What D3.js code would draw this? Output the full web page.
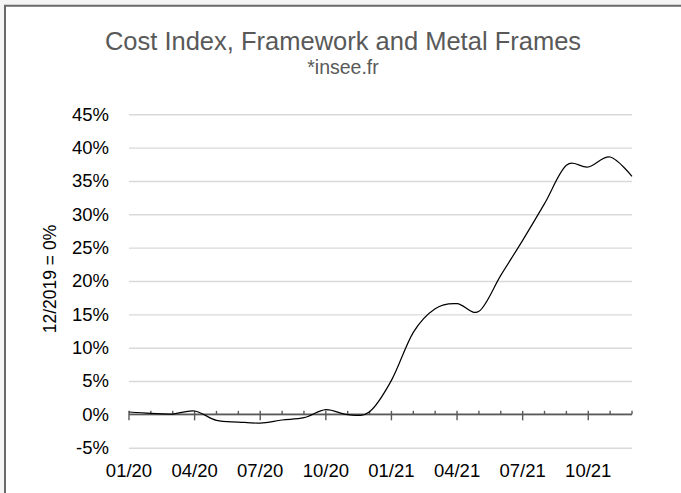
<!DOCTYPE html>
<html>
<head>
<meta charset="utf-8">
<title>Cost Index, Framework and Metal Frames</title>
<script src="https://d3js.org/d3.v7.min.js"></script>
<style>
  body { margin: 0; background: #f5f5f5; }
  svg { display: block; font-family: "Liberation Sans", Arial, sans-serif; }
</style>
</head>
<body>
<svg width="681" height="493"></svg>
<script>
// monthly categories 01/20 .. 12/21
var months = ["01/20","02/20","03/20","04/20","05/20","06/20","07/20","08/20","09/20","10/20","11/20","12/20",
              "01/21","02/21","03/21","04/21","05/21","06/21","07/21","08/21","09/21","10/21","11/21","12/21"];
// change vs 12/2019, in %
var costIndex = [0.35, 0.15, 0.05, 0.5, -0.9, -1.15, -1.3, -0.85, -0.5, 0.7, -0.05, 0.4,
                 5.1, 12.3, 15.85, 16.6, 15.45, 20.85, 26.1, 31.6, 37.35, 37.1, 38.6, 35.7];
var yTicks = [-5, 0, 5, 10, 15, 20, 25, 30, 35, 40, 45];
var xLabels = ["01/20","04/20","07/20","10/20","01/21","04/21","07/21","10/21"];

var svg = d3.select("svg");

// chart area frame
svg.append("rect").attr("x", 5).attr("y", 6).attr("width", 676).attr("height", 487).attr("fill", "#fff");
svg.append("path")
  .attr("d", "M5,493V5.8H681")
  .attr("fill", "none")
  .attr("stroke", "#6a6a6a")
  .attr("stroke-width", 2);

var x = d3.scalePoint().domain(months).range([129, 632]);
var y = d3.scaleLinear().domain([-5, 45]).range([447.7, 114.3]);

// title
svg.append("text")
  .attr("x", 343).attr("y", 50)
  .attr("text-anchor", "middle")
  .attr("font-size", 25.5)
  .attr("fill", "#595959")
  .text("Cost Index, Framework and Metal Frames");
svg.append("text")
  .attr("x", 343).attr("y", 74)
  .attr("text-anchor", "middle")
  .attr("font-size", 19.5)
  .attr("fill", "#595959")
  .text("*insee.fr");

// y axis with gridlines
var yAxis = svg.append("g")
  .attr("transform", "translate(129,0)")
  .call(d3.axisLeft(y).tickValues(yTicks).tickSize(-(632 - 129)).tickPadding(20)
    .tickFormat(function(d){ return d + "%"; }));
yAxis.select(".domain").remove();
yAxis.selectAll(".tick line").attr("stroke", "#d9d9d9").attr("stroke-width", 1.4);
yAxis.selectAll(".tick text")
  .attr("font-size", 18.5)
  .attr("fill", "#000")
  .attr("font-family", "Liberation Sans, Arial, sans-serif");

svg.append("text")
  .attr("transform", "translate(56,279) rotate(-90)")
  .attr("text-anchor", "middle")
  .attr("font-size", 17.5)
  .attr("fill", "#000")
  .text("12/2019 = 0%");

// x axis at 0%
var y0 = y(0);
var xg = svg.append("g");
xg.append("line")
  .attr("x1", x(months[0])).attr("x2", x(months[months.length - 1]))
  .attr("y1", y0).attr("y2", y0)
  .attr("stroke", "#595959").attr("stroke-width", 1.6);
xg.selectAll(".minor")
  .data(months)
  .enter().append("line")
    .attr("x1", function(d){ return x(d); })
    .attr("x2", function(d){ return x(d); })
    .attr("y1", y0 - 3.5)
    .attr("y2", function(d){ return xLabels.indexOf(d) >= 0 ? y0 + 6 : y0; })
    .attr("stroke", "#595959").attr("stroke-width", 1.4);
xg.selectAll(".lbl")
  .data(xLabels)
  .enter().append("text")
    .attr("x", function(d){ return x(d); })
    .attr("y", 477)
    .attr("text-anchor", "middle")
    .attr("font-size", 18.5)
    .attr("fill", "#000")
    .text(function(d){ return d; });

// smoothed line
var line = d3.line()
  .x(function(d, i){ return x(months[i]); })
  .y(function(d){ return y(d); })
  .curve(d3.curveCardinal.tension(0));

svg.append("path")
  .datum(costIndex)
  .attr("d", line)
  .attr("fill", "none")
  .attr("stroke", "#000")
  .attr("stroke-width", 1.2);
</script>
</body>
</html>
